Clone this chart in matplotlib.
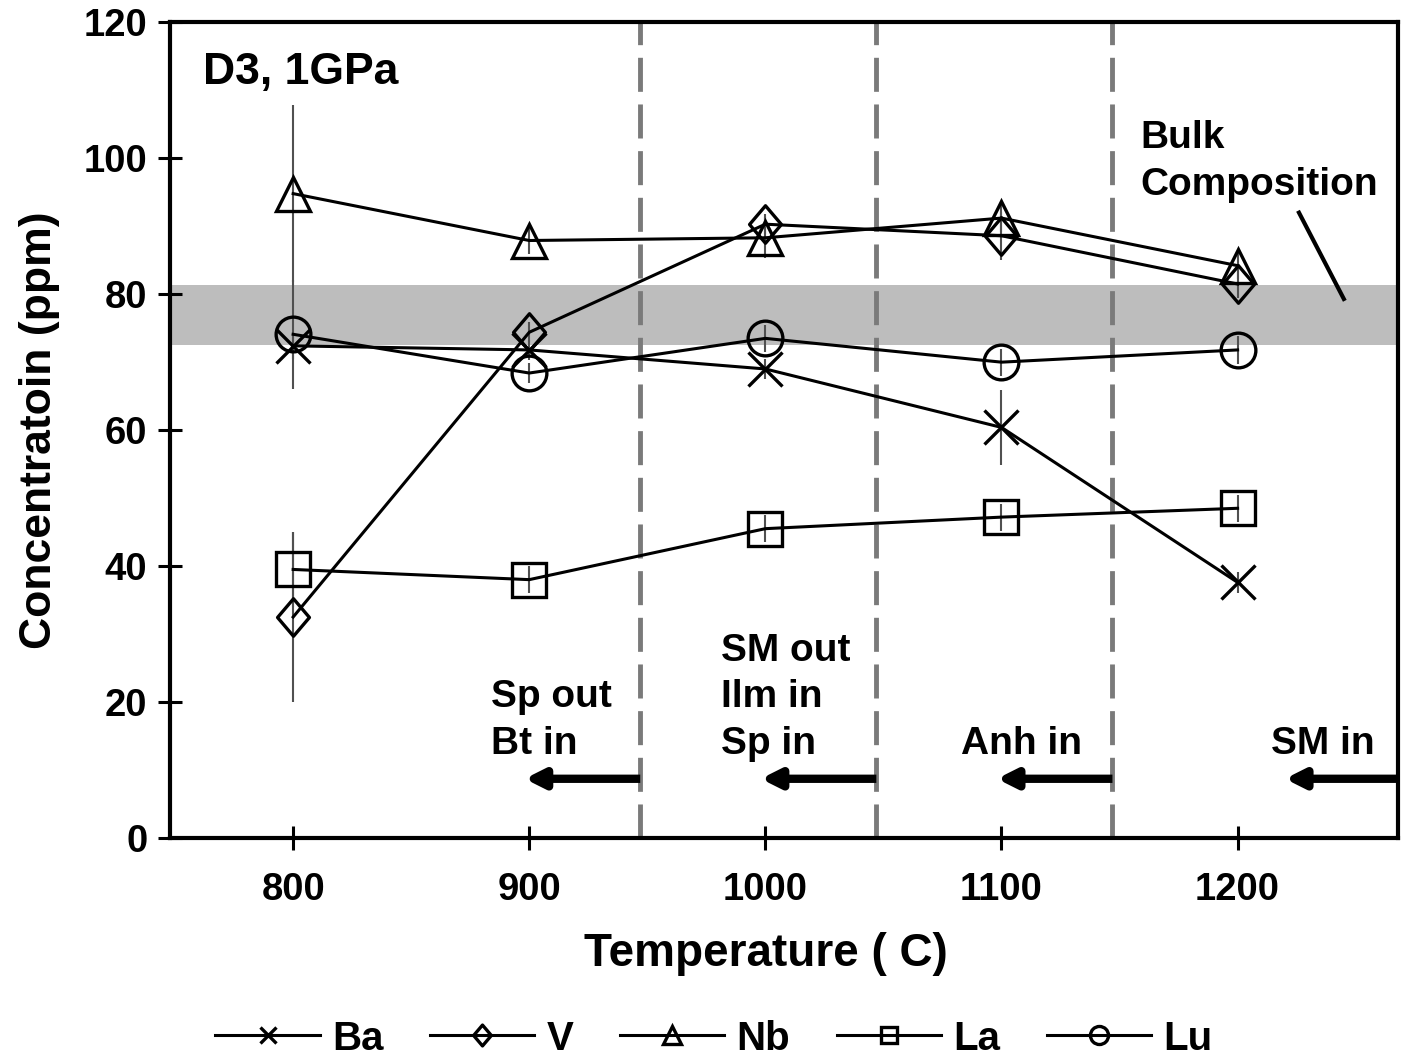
import matplotlib
matplotlib.use("Agg")
import matplotlib.pyplot as plt
from matplotlib.lines import Line2D
from matplotlib.path import Path

# values
temps = [800, 900, 1000, 1100, 1200]
ba = [72.4, 71.8, 69.0, 60.4, 37.6]
v = [32.5, 74.4, 90.3, 88.6, 81.5]
nb = [94.8, 87.9, 88.3, 91.2, 84.2]
la = [39.5, 38.0, 45.5, 47.2, 48.5]
lu = [74.1, 68.4, 73.5, 70.0, 71.8]

ba_err = [2.0, 1.5, 1.5, 5.5, 1.5]
v_err = [12.5, 1.5, 1.5, 3.5, 2.0]
nb_err = [13.0, 2.0, 3.0, 2.0, 2.0]
la_err = [5.5, 2.0, 2.0, 2.0, 2.0]
lu_err = [8.0, 1.5, 2.0, 2.0, 2.0]

series_names = ["Ba", "V", "Nb", "La", "Lu"]

bulk_low, bulk_high = 72.5, 81.3
phase_bounds = [947, 1047, 1147]
arrow_tails = [947, 1047, 1147, 1268]
arrow_heads = [898, 998, 1098, 1220]
phase_texts = [
    (884, ["Sp out", "Bt in"]),
    (981, ["SM out", "Ilm in", "Sp in"]),
    (1083, ["Anh in"]),
    (1214, ["SM in"]),
]

# Excel style diamond: a little taller than wide
tall_diamond = Path([(0, 1), (0.85, 0), (0, -1), (-0.85, 0), (0, 1)],
                    [Path.MOVETO, Path.LINETO, Path.LINETO, Path.LINETO,
                     Path.CLOSEPOLY])
series_markers = ["x", tall_diamond, "^", "s", "o"]
marker_sizes = [24, 27, 25, 24, 25]
legend_sizes = [12, 15, 13, 12, 13]

plt.rcParams["font.family"] = ["Liberation Sans", "DejaVu Sans"]
plt.rcParams["font.weight"] = "bold"

fig = plt.figure(figsize=(14.08, 10.64), dpi=100)
ax = fig.add_axes([0.121, 0.2125, 0.872, 0.7665])

ax.axhspan(bulk_low, bulk_high, color="#bdbdbd", lw=0, zorder=0)

for xb in phase_bounds:
    ax.axvline(xb, color="#7a7a7a", lw=3.5, dashes=(7, 2.6), zorder=1)

data = [ba, v, nb, la, lu]
errs = [ba_err, v_err, nb_err, la_err, lu_err]
for vals, err, mk, ms in zip(data, errs, series_markers, marker_sizes):
    ax.errorbar(temps, vals, yerr=err, fmt="none", ecolor="#505050",
                elinewidth=1.5, capsize=0, zorder=2)
    ax.plot(temps, vals, color="black", lw=2.2, marker=mk, markersize=ms,
            markerfacecolor="none", markeredgecolor="black",
            markeredgewidth=2.4, zorder=3)

# phase arrows
for x0, x1 in zip(arrow_tails, arrow_heads):
    ax.annotate("", xy=(x1, 8.7), xytext=(x0, 8.7),
                arrowprops=dict(arrowstyle="-|>,head_length=1.1,head_width=0.55",
                                color="black", lw=6, shrinkA=0, shrinkB=0,
                                capstyle="butt"),
                zorder=4)

for x0, lines in phase_texts:
    n = len(lines)
    for i, line in enumerate(lines):
        ax.text(x0, 12.3 + (n - 1 - i) * 6.9, line, fontsize=28,
                fontweight="bold", ha="left", va="baseline")

ax.text(762, 111, "D3, 1GPa", fontsize=32, fontweight="bold",
        ha="left", va="baseline")
ax.text(1159, 101.5, "Bulk", fontsize=28, fontweight="bold",
        ha="left", va="baseline")
ax.text(1159, 94.6, "Composition", fontsize=28, fontweight="bold",
        ha="left", va="baseline")
ax.plot([1226, 1245], [92.0, 79.3], color="black", lw=3, zorder=4)

ax.set_xlim(748, 1268)
ax.set_ylim(0, 120)
ax.set_xticks(temps)
ax.set_yticks(range(0, 121, 20))
ax.tick_params(direction="inout", length=17, width=2.2, labelsize=27.5)
ax.tick_params(axis="x", pad=16)
ax.tick_params(axis="y", pad=8)
for lab in ax.get_xticklabels() + ax.get_yticklabels():
    lab.set_fontweight("bold")
for sp in ax.spines.values():
    sp.set_linewidth(3)

ax.set_xlabel("Temperature ( C)", fontsize=33, fontweight="bold")
ax.set_ylabel("Concentratoin (ppm)", fontsize=32, fontweight="bold")
ax.xaxis.set_label_coords(0.485, -0.115)
ax.yaxis.set_label_coords(-0.09, 0.5)

handles = [
    Line2D([], [], color="black", lw=2.2, marker=mk, markersize=ls,
           markerfacecolor="none", markeredgewidth=2.4)
    for mk, ls in zip(series_markers, legend_sizes)
]
fig.legend(handles, series_names, loc="lower center", ncol=5,
           bbox_to_anchor=(0.507, -0.028), frameon=False,
           prop={"size": 29, "weight": "bold"}, handlelength=2.6,
           handletextpad=0.3, columnspacing=1.15)

fig.savefig("out.png", dpi=100)
